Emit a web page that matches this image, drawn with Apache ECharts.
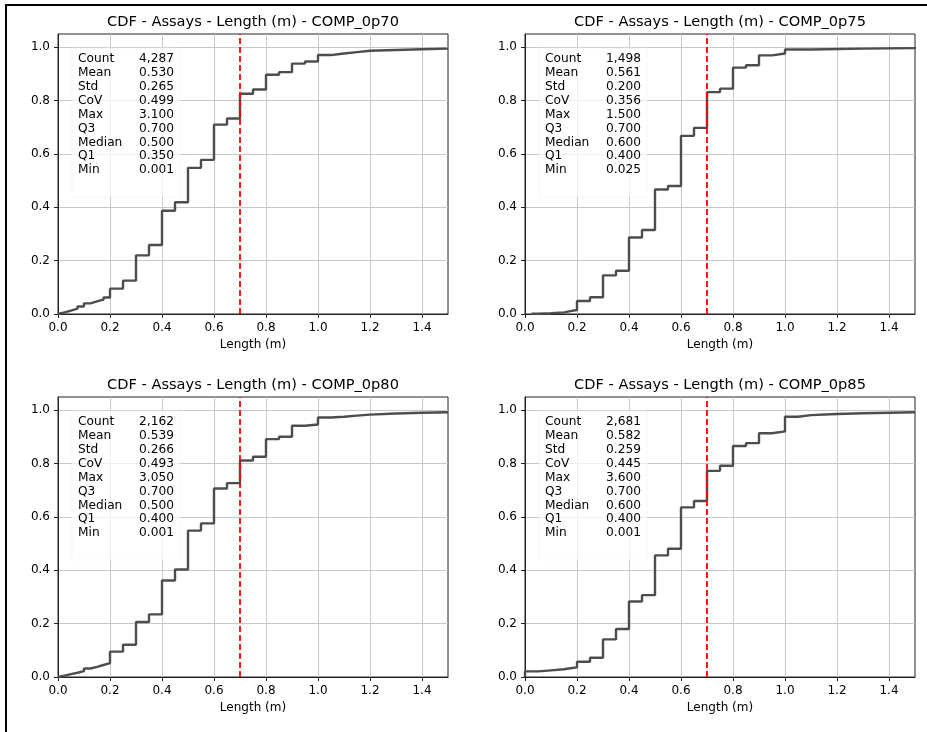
<!DOCTYPE html>
<html>
<head>
<meta charset="utf-8">
<script src="https://cdn.jsdelivr.net/npm/echarts@6/dist/echarts.min.js"></script>
<style>
html,body{margin:0;padding:0;background:#fff;}
#c{width:927px;height:732px;}
</style>
</head>
<body>
<div id="c"></div>
<script>
// ---- data ----
const panelNames = ['COMP_0p70', 'COMP_0p75', 'COMP_0p80', 'COMP_0p85'];
const statLabels = ['Count', 'Mean', 'Std', 'CoV', 'Max', 'Q3', 'Median', 'Q1', 'Min'];
const stats070 = ['4,287', '0.530', '0.265', '0.499', '3.100', '0.700', '0.500', '0.350', '0.001'];
const stats075 = ['1,498', '0.561', '0.200', '0.356', '1.500', '0.700', '0.600', '0.400', '0.025'];
const stats080 = ['2,162', '0.539', '0.266', '0.493', '3.050', '0.700', '0.500', '0.400', '0.001'];
const stats085 = ['2,681', '0.582', '0.259', '0.445', '3.600', '0.700', '0.600', '0.400', '0.001'];

const len070 = [0, 0, 0.025, 0.05, 0.075, 0.1, 0.125, 0.15, 0.175, 0.2, 0.25, 0.3, 0.35, 0.4, 0.45, 0.5, 0.55, 0.6, 0.65, 0.7, 0.75, 0.8, 0.85, 0.9, 0.95, 1.0, 1.05, 1.1, 1.15, 1.2, 1.3, 1.4, 1.5];
const cdf070 = [0, 0.006, 0.013, 0.02, 0.028, 0.04, 0.047, 0.054, 0.062, 0.095, 0.125, 0.22, 0.259, 0.387, 0.419, 0.548, 0.578, 0.71, 0.733, 0.826, 0.842, 0.897, 0.907, 0.939, 0.947, 0.971, 0.977, 0.982, 0.987, 0.99, 0.993, 0.995, 0.996];

const len075 = [0.025, 0.05, 0.1, 0.15, 0.175, 0.2, 0.25, 0.3, 0.35, 0.4, 0.45, 0.5, 0.55, 0.6, 0.65, 0.7, 0.75, 0.8, 0.85, 0.9, 0.95, 1.0, 1.1, 1.3, 1.5];
const cdf075 = [0.001, 0.003, 0.006, 0.011, 0.015, 0.049, 0.063, 0.145, 0.162, 0.287, 0.315, 0.467, 0.48, 0.668, 0.698, 0.832, 0.845, 0.924, 0.933, 0.97, 0.977, 0.992, 0.995, 0.997, 1.0];

const len080 = [0, 0, 0.025, 0.05, 0.075, 0.1, 0.125, 0.15, 0.175, 0.2, 0.25, 0.3, 0.35, 0.4, 0.45, 0.5, 0.55, 0.6, 0.65, 0.7, 0.75, 0.8, 0.85, 0.9, 0.95, 1.0, 1.05, 1.1, 1.15, 1.2, 1.3, 1.4, 1.5];
const cdf080 = [0, 0.005, 0.011, 0.016, 0.022, 0.032, 0.038, 0.045, 0.052, 0.095, 0.121, 0.206, 0.235, 0.362, 0.403, 0.549, 0.576, 0.707, 0.727, 0.812, 0.826, 0.892, 0.901, 0.942, 0.947, 0.973, 0.976, 0.98, 0.984, 0.988, 0.991, 0.993, 0.995];

const len085 = [0, 0, 0.05, 0.1, 0.15, 0.175, 0.2, 0.25, 0.3, 0.35, 0.4, 0.45, 0.5, 0.55, 0.6, 0.65, 0.7, 0.75, 0.8, 0.85, 0.9, 0.95, 1.0, 1.05, 1.1, 1.2, 1.3, 1.4, 1.5];
const cdf085 = [0, 0.021, 0.025, 0.029, 0.033, 0.036, 0.057, 0.072, 0.141, 0.18, 0.283, 0.307, 0.456, 0.481, 0.636, 0.66, 0.773, 0.792, 0.866, 0.877, 0.914, 0.921, 0.976, 0.982, 0.986, 0.989, 0.991, 0.993, 0.994];

const xTicks = [0, 0.2, 0.4, 0.6, 0.8, 1.0, 1.2, 1.4];
const yTicks = [0, 0.2, 0.4, 0.6, 0.8, 1.0];
const xRange = [0, 1.5];
const yRange = [0, 1.05];

// ---- layout ----
const FONT = '"DejaVu Sans", "Liberation Sans", sans-serif';
const PW = 390, PH = 280;
const pos = [{l: 58, t: 34}, {l: 525, t: 34}, {l: 58, t: 397}, {l: 525, t: 397}];
const lens = [len070, len075, len080, len085];
const cdfs = [cdf070, cdf075, cdf080, cdf085];
const stats = [stats070, stats075, stats080, stats085];

const grids = [], xAxes = [], yAxes = [], series = [], graphics = [];
pos.forEach((p, i) => {
  grids.push({left: p.l, top: p.t, width: PW, height: PH, show: true,
    borderColor: '#222', borderWidth: 1, backgroundColor: '#fff', containLabel: false});
  xAxes.push({
    type: 'value', gridIndex: i, min: xRange[0], max: xRange[1],
    name: 'Length (m)', nameLocation: 'middle', nameGap: 25,
    nameTextStyle: {fontFamily: FONT, fontSize: 12, color: '#000'},
    axisLine: {show: true, lineStyle: {color: '#222', width: 1}},
    axisTick: {show: true, length: 4, customValues: xTicks, lineStyle: {color: '#222'}},
    axisLabel: {customValues: xTicks, margin: 8, fontFamily: FONT, fontSize: 12, color: '#000',
      formatter: v => v.toFixed(1)},
    splitLine: {show: true, lineStyle: {color: '#c8c8c8', width: 1}}
  });
  yAxes.push({
    type: 'value', gridIndex: i, min: yRange[0], max: yRange[1],
    axisLine: {show: true, lineStyle: {color: '#222', width: 1}},
    axisTick: {show: true, length: 4, customValues: yTicks, lineStyle: {color: '#222'}},
    axisLabel: {customValues: yTicks, margin: 8, fontFamily: FONT, fontSize: 12, color: '#000',
      formatter: v => v.toFixed(1)},
    splitLine: {show: true, lineStyle: {color: '#c8c8c8', width: 1}}
  });
  const q3 = parseFloat(stats[i][5]);
  series.push({
    type: 'line', xAxisIndex: i, yAxisIndex: i, step: 'end', showSymbol: false, z: 3,
    data: lens[i].map((x, k) => [x, cdfs[i][k]]),
    lineStyle: {color: '#4d4d4d', width: 2.4},
    itemStyle: {color: '#4d4d4d'},
    markLine: {
      silent: true, symbol: 'none', label: {show: false}, z: 4,
      lineStyle: {color: '#ff0000', width: 1.8, type: [6, 3]},
      data: [{xAxis: q3}]
    }
  });
  // title
  graphics.push({type: 'text', x: p.l + PW / 2, y: p.t - 11.5, z: 10,
    style: {text: 'CDF - Assays - Length (m) - ' + panelNames[i], font: '14.6px ' + FONT,
      fill: '#000', textAlign: 'center', textVerticalAlign: 'middle'}});
  // stats box
  graphics.push({type: 'rect', z: 2, shape: {x: p.l + 14, y: p.t + 14, width: 108, height: 149},
    style: {fill: 'rgba(255,255,255,0.7)', stroke: 'rgba(240,240,240,0.5)', lineWidth: 1}});
  graphics.push({type: 'text', x: p.l + 20, y: p.t + 18, z: 10,
    style: {text: statLabels.join('\n'), font: '12.2px ' + FONT, lineHeight: 13.9,
      fill: '#000', textAlign: 'left', textVerticalAlign: 'top'}});
  graphics.push({type: 'text', x: p.l + 81, y: p.t + 18, z: 10,
    style: {text: stats[i].join('\n'), font: '12.2px ' + FONT, lineHeight: 13.9,
      fill: '#000', textAlign: 'left', textVerticalAlign: 'top'}});
});
// figure border (top and left edges)
graphics.push({type: 'line', z: 20, shape: {x1: 5, y1: 5, x2: 927, y2: 5}, style: {stroke: '#000', lineWidth: 2}});
graphics.push({type: 'line', z: 20, shape: {x1: 6, y1: 5, x2: 6, y2: 732}, style: {stroke: '#000', lineWidth: 2}});

const chart = echarts.init(document.getElementById('c'), null, {renderer: 'canvas'});
chart.setOption({
  animation: false,
  backgroundColor: '#fff',
  grid: grids, xAxis: xAxes, yAxis: yAxes, series: series,
  graphic: graphics
});
</script>
</body>
</html>
